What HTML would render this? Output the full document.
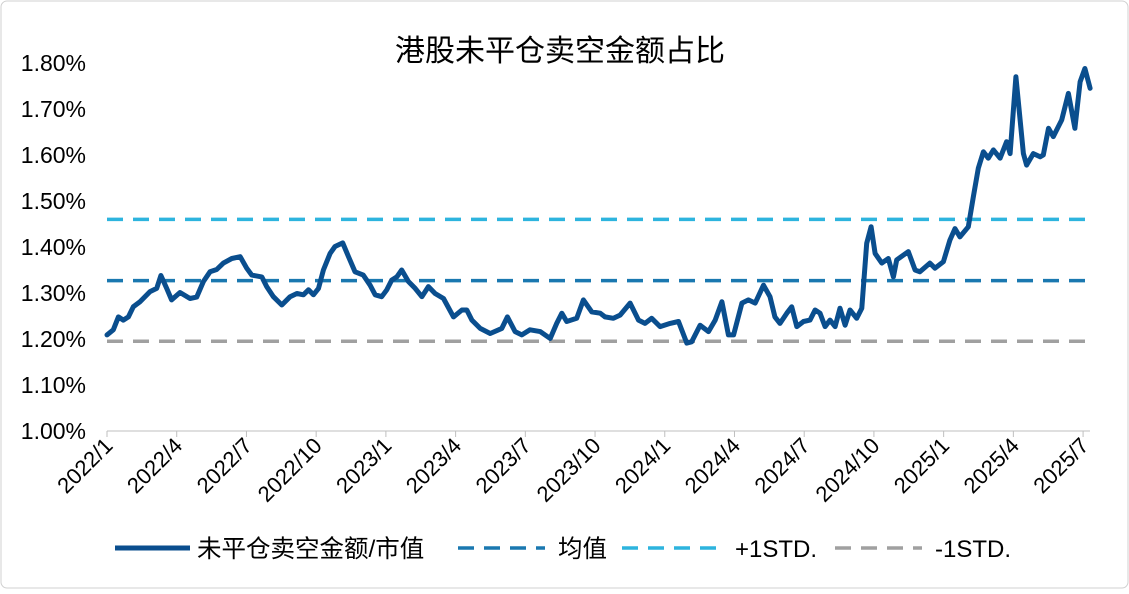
<!DOCTYPE html>
<html><head><meta charset="utf-8"><style>
body{margin:0;background:#fff}
svg text{font-family:"Liberation Sans","Noto Sans CJK SC",sans-serif;fill:#000}
</style></head><body>
<svg id="c" width="1129" height="589">
<rect x="1" y="1" width="1127" height="587" rx="6" fill="#fff" stroke="#d0d0d0"/>
<text x="560" y="61" font-size="30" text-anchor="middle">港股未平仓卖空金额占比</text>
<g id="grid"></g>
<g id="lines"></g>
<g id="legend">
<line x1="115" y1="548" x2="190" y2="548" stroke="#0a4e8e" stroke-width="5"/>
<text x="197" y="557" font-size="24.5">未平仓卖空金额/市值</text>
<line x1="458" y1="548" x2="545" y2="548" stroke="#1a78b0" stroke-width="3.5" stroke-dasharray="16,10"/>
<text x="558" y="557" font-size="24.5">均值</text>
<line x1="622" y1="548" x2="722" y2="548" stroke="#2db4de" stroke-width="3.5" stroke-dasharray="16,10"/>
<text x="735" y="557" font-size="24">+1STD.</text>
<line x1="835" y1="548" x2="922" y2="548" stroke="#a0a0a0" stroke-width="3.5" stroke-dasharray="16,10"/>
<text x="935" y="557" font-size="24">-1STD.</text>
</g>
</svg>
<script>
const yTicks=[1.0,1.1,1.2,1.3,1.4,1.5,1.6,1.7,1.8];
const xTickLabels=["2022/1","2022/4","2022/7","2022/10","2023/1","2023/4","2023/7","2023/10","2024/1","2024/4","2024/7","2024/10","2025/1","2025/4","2025/7"];
const meanVal=[1.327];
const plusStd=[1.46];
const minusStd=[1.195];
const months=[0,0.27,0.49,0.7,0.92,1.13,1.42,1.85,2.14,2.32,2.57,2.78,3.14,3.57,3.86,4.15,4.43,4.72,5.01,5.37,5.73,6.01,6.23,6.66,6.87,7.16,7.52,7.88,8.17,8.45,8.67,8.88,9.1,9.31,9.6,9.81,10.14,10.39,10.67,11.03,11.32,11.54,11.82,12.04,12.25,12.47,12.68,12.97,13.26,13.55,13.83,14.12,14.48,14.91,15.27,15.48,15.7,16.06,16.49,16.99,17.23,17.56,17.85,18.2,18.64,19.07,19.35,19.57,19.78,20.21,20.5,20.86,21.22,21.43,21.79,22.08,22.51,22.87,23.15,23.44,23.8,24.23,24.59,24.95,25.16,25.52,25.88,26.17,26.46,26.74,26.96,27.32,27.6,27.89,28.25,28.53,28.74,28.96,29.25,29.46,29.68,29.97,30.25,30.47,30.68,30.9,31.11,31.33,31.54,31.76,31.97,32.26,32.48,32.69,32.88,33.05,33.34,33.62,33.84,33.98,34.48,34.77,34.98,35.41,35.63,35.99,36.27,36.49,36.7,37.06,37.28,37.49,37.71,37.92,38.14,38.43,38.71,38.86,39.11,39.43,39.57,39.86,40.15,40.29,40.51,40.72,41.08,41.37,41.65,41.87,42.08,42.3];
const ratio=[1.209,1.22,1.248,1.241,1.248,1.27,1.281,1.303,1.31,1.338,1.31,1.285,1.301,1.288,1.291,1.325,1.346,1.351,1.365,1.375,1.379,1.354,1.339,1.335,1.314,1.292,1.274,1.292,1.299,1.296,1.307,1.296,1.31,1.35,1.386,1.401,1.409,1.379,1.346,1.339,1.317,1.296,1.292,1.307,1.328,1.335,1.35,1.325,1.31,1.292,1.314,1.299,1.288,1.248,1.263,1.263,1.241,1.223,1.212,1.223,1.248,1.216,1.209,1.22,1.216,1.201,1.234,1.256,1.238,1.245,1.285,1.259,1.256,1.248,1.245,1.252,1.278,1.241,1.234,1.245,1.227,1.234,1.238,1.191,1.194,1.23,1.216,1.241,1.281,1.209,1.209,1.278,1.285,1.278,1.317,1.292,1.248,1.234,1.256,1.27,1.227,1.238,1.241,1.263,1.256,1.227,1.241,1.227,1.267,1.23,1.263,1.245,1.267,1.408,1.444,1.386,1.365,1.375,1.335,1.372,1.39,1.35,1.346,1.365,1.354,1.368,1.415,1.44,1.422,1.444,1.51,1.571,1.607,1.593,1.611,1.593,1.629,1.603,1.77,1.603,1.578,1.603,1.596,1.6,1.658,1.64,1.676,1.734,1.658,1.759,1.788,1.745];
const X0=107,X1=1090,Y0=431;
const xs=m=>X0+m*23.24;
const ys=v=>Y0-(v-1.0)*460;
const NS="http://www.w3.org/2000/svg";
const grid=document.getElementById('grid'),lines=document.getElementById('lines');
function mk(tag,attrs,parent){const e=document.createElementNS(NS,tag);for(const k in attrs)e.setAttribute(k,attrs[k]);parent.appendChild(e);return e;}
yTicks.forEach((t,i)=>{
 const e=mk('text',{x:86,y:ys(t)+8,'font-size':23,'text-anchor':'end'},grid);
 
 
 e.textContent=t.toFixed(2)+'%';
});
const ax=mk('line',{x1:X0,y1:Y0,x2:X1,y2:Y0,stroke:'#bfbfbf','stroke-width':1},grid);


xTickLabels.forEach((l,i)=>{
 const x=xs(i*3);
 const tk=mk('line',{x1:x,y1:Y0,x2:x,y2:Y0+6,stroke:'#bfbfbf'},grid);
 
 
 const e=mk('text',{x:x+7,y:Y0+16,'font-size':22,'text-anchor':'end',transform:`rotate(-45 ${x+7} ${Y0+16})`},grid);
 
 
 e.textContent=l;
});
function hline(v,color,name){
 const e=mk('line',{x1:X0,y1:ys(v),x2:X1,y2:ys(v),stroke:color,'stroke-width':3.5,'stroke-dasharray':'16,10'},lines);
 
 
}
hline(minusStd[0],'#a0a0a0','minus1std-line');
hline(meanVal[0],'#1a78b0','mean-line');
hline(plusStd[0],'#2db4de','plus1std-line');
const d=months.map((m,i)=>(i?'L':'M')+xs(m).toFixed(1)+' '+ys(ratio[i]).toFixed(1)).join(' ');
const p=mk('path',{d:d,fill:'none',stroke:'#0a4e8e','stroke-width':5,'stroke-linejoin':'round','stroke-linecap':'round'},lines);


</script>
</body></html>
